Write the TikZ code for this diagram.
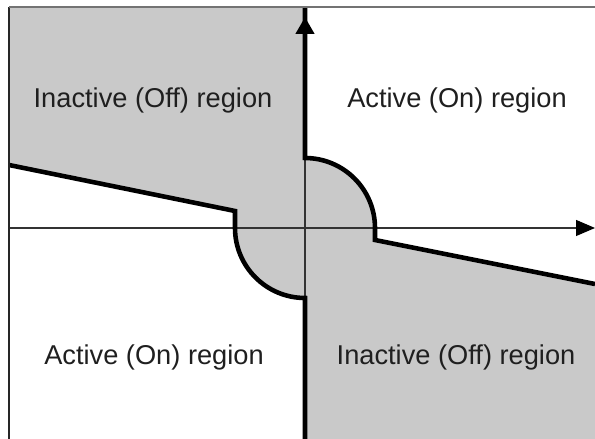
\documentclass[tikz,border=0pt]{standalone}
\usepackage{fontspec}
\setmainfont{Liberation Sans}
\usetikzlibrary{arrows.meta}
\definecolor{Shade}{gray}{0.79}
\definecolor{AxisGray}{gray}{0.2}

\begin{document}
\begin{tikzpicture}[x=0.02cm, y=0.02cm,
  thinaxis/.style={draw=AxisGray, line width=0.6pt},
  bound/.style={draw=black, line width=2.6pt},
  regiontext/.style={font=\fontsize{15.5}{18}\selectfont, text=black!88}]
  \useasboundingbox (0,0) rectangle (595,439);

  \coordinate (O) at (305,211);
  \coordinate (xstart) at (9,211);
  \coordinate (xend) at (595,211);
  \coordinate (ytop) at (305,432);
  \coordinate (ybot) at (305,0);

  % shaded off region
  \fill [Shade] (9,432) -- (ytop) -- (305,281) arc [start angle=90, end angle=0, radius=70]
    -- (375,199) -- (595,155) -- (595,0) -- (ybot) -- (305,141)
    arc [start angle=270, end angle=180, radius=70] -- (235,228) -- (9,274) -- cycle;

  % axes
  \draw [thinaxis, -{Triangle[length=0.38cm, width=0.32cm, black]}] (xstart) -- (xend);
  \draw [thinaxis] (ybot) -- (ytop);

  % boundaries
  \draw [bound] (ytop) -- (305,281) arc [start angle=90, end angle=0, radius=70]
    -- (375,199) -- (595,155);
  \draw [bound] (9,274) -- (235,228) -- (235,211)
    arc [start angle=180, end angle=270, radius=70] -- (ybot);
  \draw [bound, -{Triangle[length=0.34cm, width=0.36cm]}] (305,390) -- (305,422);

  % frame
  \draw [black!85, line width=1.1pt] (9,0) -- (9,432);
  \draw [black!55, line width=0.9pt] (9,432) -- (595,432);

  \node [regiontext] (offup) at (153,339) {Inactive (Off) region};
  \node [regiontext] (onup) at (457,339) {Active (On) region};
  \node [regiontext] (ondown) at (154,82) {Active (On) region};
  \node [regiontext] (offdown) at (456,82) {Inactive (Off) region};
\end{tikzpicture}
\end{document}
